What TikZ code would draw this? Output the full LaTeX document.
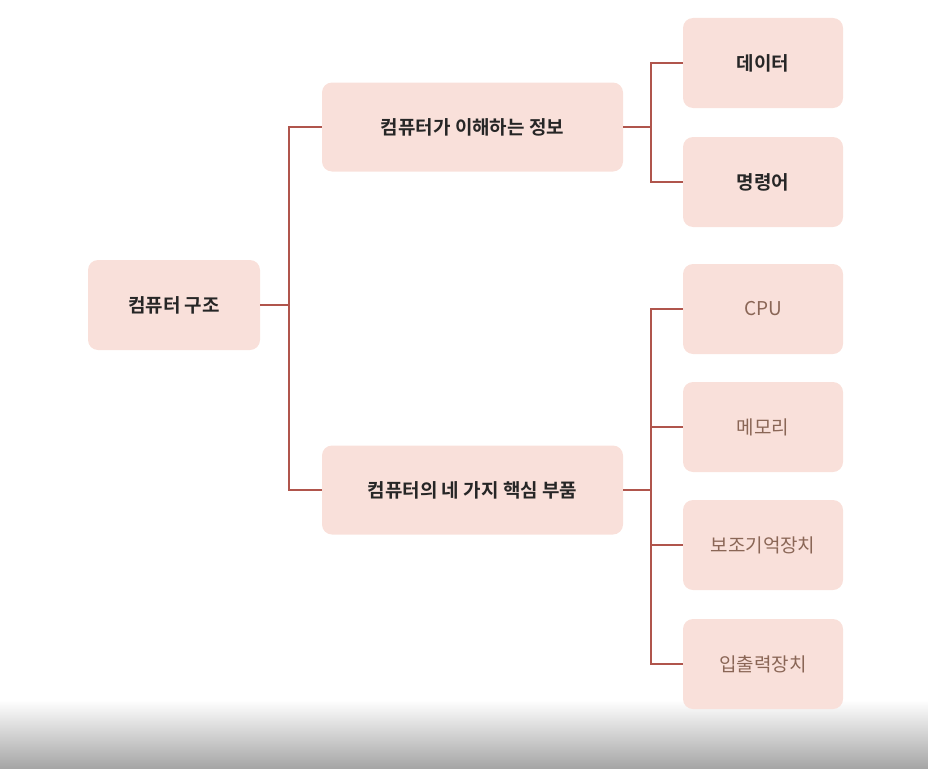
\documentclass[tikz,border=0pt]{standalone}
\usepackage{fontspec}
\newfontfamily\kr[BoldFont={Noto Sans CJK KR Bold}]{Noto Sans CJK KR}
\definecolor{boxfill}{HTML}{F9E0DA}
\definecolor{lin}{HTML}{B0554C}
\definecolor{leaftxt}{HTML}{8A6656}
\begin{document}
\begin{tikzpicture}[x=1pt,y=-1pt,
  box/.style={fill=boxfill,rounded corners=10pt,font=\kr\bfseries\fontsize{19}{22}\selectfont,text=black!85},
  mid/.style={box,minimum width=301pt,minimum height=89pt},
  leaf/.style={box,minimum width=160pt,minimum height=90pt},
  leafb/.style={leaf,text=leaftxt,font=\kr\fontsize{19}{22}\selectfont},
  conn/.style={draw=lin,line width=1.2pt}]
\useasboundingbox (0,0) rectangle (928,768);
\shade[top color=white,bottom color=black!35] (0,700) rectangle (928,768);
\node[box,minimum width=172pt,minimum height=90pt] (root) at (174,305) {컴퓨터 구조};
\node[mid] (info) at (472.5,127) {컴퓨터가 이해하는 정보};
\node[mid] (parts) at (472.5,490) {컴퓨터의 네 가지 핵심 부품};
\node[leaf] (data) at (763,63) {데이터};
\node[leaf] (cmd) at (763,182) {명령어};
\node[leafb] (cpu) at (763,309) {CPU};
\node[leafb] (mem) at (763,427) {메모리};
\node[leafb] (aux) at (763,545) {보조기억장치};
\node[leafb] (io) at (763,664) {입출력장치};
\coordinate (j1) at (289,305);
\coordinate (j2) at (651,127);
\coordinate (j3) at (651,490);
\draw[conn] (root.east) -- (j1);
\draw[conn] (info.west) -| (j1) |- (parts.west);
\draw[conn] (info.east) -- (j2);
\draw[conn] (data.west) -| (j2) |- (cmd.west);
\draw[conn] (parts.east) -- (j3);
\draw[conn] (cpu.west) -| (j3) |- (io.west);
\draw[conn] (mem.west) -- (mem.west -| j3);
\draw[conn] (aux.west) -- (aux.west -| j3);
\end{tikzpicture}
\end{document}
